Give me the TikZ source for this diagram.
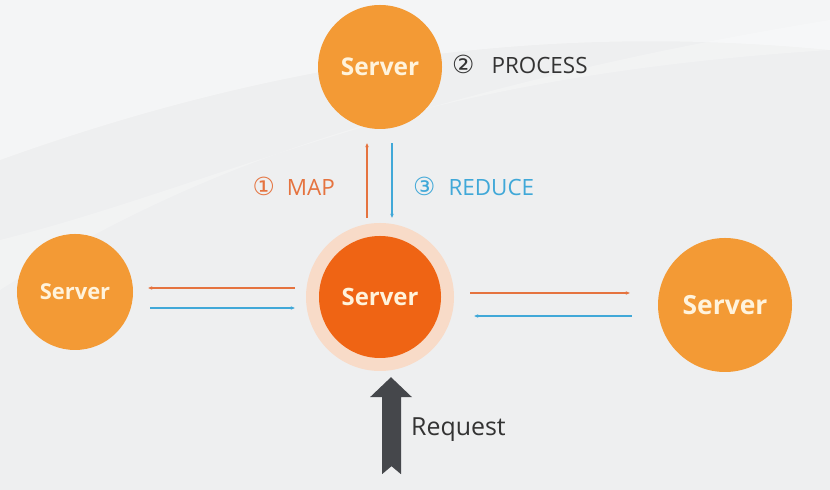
\documentclass[tikz,border=0pt]{standalone}
\usepackage{fontspec}
\setmainfont{Open Sans}
\newfontfamily\numfont{DejaVu Sans}
\usetikzlibrary{positioning,arrows.meta,calc}
\definecolor{paper}     {HTML}{EEEFF0}
\definecolor{srvorange} {HTML}{F39A35}
\definecolor{hubred}    {HTML}{EF6414}
\definecolor{hubhalo}   {HTML}{F8DBC8}
\definecolor{srvtext}   {HTML}{FFF3DC}
\definecolor{maporange} {HTML}{E5733F}
\definecolor{reduceblue}{HTML}{40A8D8}
\definecolor{reqgray}   {HTML}{45474B}
\definecolor{labelink}  {HTML}{333333}
\tikzset{
  >=Stealth,
  % --- nodes
  srv/.style    = {circle, fill=srvorange, text=srvtext, inner sep=0pt},
  srvfont/.style= {font=\bfseries\fontsize{#1}{#1}\selectfont},
  halo/.style   = {circle, fill=hubhalo, inner sep=0pt, minimum size=148bp},
  hub/.style    = {srv, fill=hubred, minimum size=122bp},
  steplbl/.style= {font=\fontsize{22.5}{26}\selectfont, inner sep=0pt},
  % --- edges
  emap/.style   = {-{Stealth[length=4bp,width=3.5bp]}, line width=1.3bp, draw=maporange},
  ereduce/.style= {-{Stealth[length=4bp,width=3.5bp]}, line width=1.3bp, draw=reduceblue},
}
\newcommand{\stepno}[1]{{\numfont\fontsize{25}{26}\selectfont #1}}
\begin{document}
\begin{tikzpicture}[x=1bp,y=1bp]
  % background
  \fill[paper] (0,0) rectangle (830,490);
  \fill[white,opacity=.4] (0,330) .. controls (250,420) and (520,470) .. (830,440) -- (830,490) -- (0,490) -- cycle;
  \fill[white,opacity=.25] (0,250) .. controls (200,300) and (400,400) .. (830,470) -- (830,440) .. controls (520,420) and (250,360) .. (0,200) -- cycle;
  \useasboundingbox (0,0) rectangle (830,490);

  \node[halo] (ring) at (380,193) {};
  \node[hub, srvfont=24] (hub) at (380,193) {Server};
  \node[srv, srvfont=24.5, minimum size=124bp] (top) at (380,423) {Server};
  \node[srv, srvfont=22, minimum size=116bp] (west) at (75,198) {Server};
  \node[srv, srvfont=26.5, minimum size=134bp] (east) at (725,185) {Server};

  \node[steplbl, text=maporange, anchor=east] (map) at (335,304) {\stepno{①}\hspace{12bp}MAP};
  \node[steplbl, text=reduceblue, anchor=west] (reduce) at (413,304) {\stepno{③}\hspace{13bp}REDUCE};
  \node[steplbl, text=labelink, anchor=west] (process) at (452,426) {\stepno{②}\hspace{17bp}PROCESS};

  % map / reduce arrows
  \draw[emap, shorten <=5bp, shorten >=14bp] ([xshift=-13bp]ring.north) -- ([xshift=-13bp]top.south);
  \draw[ereduce, shorten <=14bp, shorten >=5bp] ([xshift=12bp]top.south) -- ([xshift=12bp]ring.north);
  \draw[emap, shorten <=11bp, shorten >=15bp] ([yshift=9bp]ring.west) -- ([yshift=9bp]ring.west -| west.east);
  \draw[ereduce, shorten <=17bp, shorten >=11bp] ([yshift=-11bp]ring.west -| west.east) -- ([yshift=-11bp]ring.west);
  \draw[emap, shorten <=16bp, shorten >=28bp] ([yshift=4bp]ring.east) -- ([yshift=4bp]ring.east -| east.west);
  \draw[ereduce, shorten <=26bp, shorten >=20bp] ([yshift=-19bp]ring.east -| east.west) -- ([yshift=-19bp]ring.east);

  % request
  \coordinate (reqtip) at ([xshift=11bp,yshift=-6bp]ring.south);
  \fill[reqgray] (reqtip) -- ++(21,-20) -- ++(-11,0) -- ++(0,-77) -- ++(-9.5,8) -- ++(-9.5,-8)
    -- ++(0,77) -- ++(-12,0) -- cycle;
  \node[font=\fontsize{25}{28}\selectfont, text=labelink, anchor=west, inner sep=0pt] (req) at (411,60) {Request};
\end{tikzpicture}
\end{document}
